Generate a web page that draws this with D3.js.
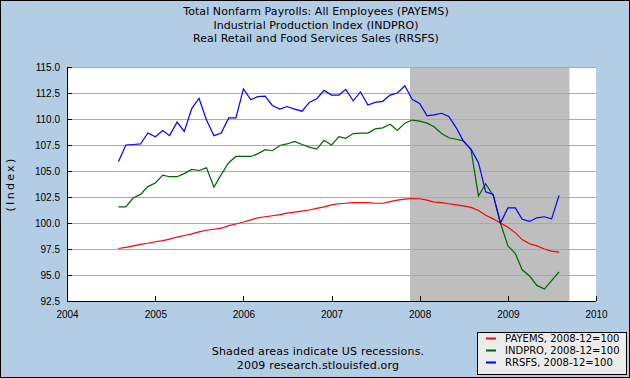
<!DOCTYPE html>
<html>
<head>
<meta charset="utf-8">
<script src="https://cdn.jsdelivr.net/npm/d3@7"></script>
<style>
	body { margin: 0; }
	svg { display: block; font-family: 'DejaVu Sans', sans-serif; }
	.axis path, .axis line { stroke: #000; shape-rendering: crispEdges; }
	.axis text { fill: #000; font-size: 10px; }
	.grid line { stroke: #aaa; shape-rendering: crispEdges; }
	.grid path { display: none; }
</style>
</head>
<body>
<svg></svg>
<script>
const $svg = d3.select('svg');

const titleLines = [
	'Total Nonfarm Payrolls: All Employees (PAYEMS)',
	'Industrial Production Index (INDPRO)',
	'Real Retail and Food Services Sales (RRSFS)'
];
const footLines = ['Shaded areas indicate US recessions.', '2009 research.stlouisfed.org'];
const seriesNames = ['PAYEMS, 2008-12=100', 'INDPRO, 2008-12=100', 'RRSFS, 2008-12=100'];
const seriesColors = ['#ff0000', '#006400', '#0000ff'];

// monthly, Aug 2004 - Aug 2009
const months = d3.timeMonth.range(new Date(2004, 7, 1), new Date(2009, 8, 1));

const payems = [97.55, 97.65, 97.8, 97.95, 98.05,
	98.2, 98.3, 98.45, 98.65, 98.8, 98.95, 99.15, 99.3, 99.4, 99.5, 99.75, 99.9,
	100.1, 100.3, 100.5, 100.6, 100.7, 100.8, 100.95, 101.05, 101.15, 101.25, 101.4, 101.55,
	101.75, 101.85, 101.9, 101.95, 101.95, 101.95, 101.9, 101.9, 102.05, 102.2, 102.3, 102.35,
	102.33, 102.2, 102.0, 101.95, 101.85, 101.75, 101.65, 101.5, 101.2, 100.75, 100.4, 100.0,
	99.6, 99.05, 98.4, 98.0, 97.8, 97.5, 97.3, 97.2];

const indpro = [101.55, 101.55, 102.4, 102.75, 103.5,
	103.85, 104.6, 104.45, 104.45, 104.75, 105.15, 105.05, 105.3, 103.45, 104.65, 105.8, 106.4,
	106.4, 106.4, 106.65, 107.05, 106.95, 107.45, 107.6, 107.85, 107.55, 107.3, 107.1, 107.95,
	107.5, 108.3, 108.15, 108.6, 108.65, 108.65, 109.05, 109.15, 109.5, 108.9, 109.6, 109.9,
	109.8, 109.6, 109.25, 108.6, 108.2, 108.05, 107.9, 107.05, 102.6, 103.75, 102.65, 100.0,
	97.8, 97.05, 95.5, 94.9, 94.0, 93.65, 94.45, 95.3];

const rrsfs = [105.9, 107.5, 107.55, 107.6, 108.65,
	108.3, 108.9, 108.4, 109.7, 108.8, 111.0, 112.0, 109.9, 108.4, 108.65, 110.1, 110.1,
	112.9, 111.85, 112.15, 112.2, 111.3, 110.95, 111.2, 110.95, 110.75, 111.6, 111.95, 112.75,
	112.3, 112.3, 112.85, 111.75, 112.6, 111.35, 111.6, 111.7, 112.3, 112.5, 113.2, 111.9,
	111.5, 110.3, 110.4, 110.55, 110.25, 109.15, 107.85, 107.1, 105.8, 103.0, 102.75, 100.0,
	101.45, 101.45, 100.35, 100.15, 100.5, 100.6, 100.4, 102.65];

const recession = [new Date(2007, 10, 22), new Date(2009, 8, 13)];
const yTicks = [92.5, 95, 97.5, 100, 102.5, 105, 107.5, 110, 112.5, 115];
const xTicks = [2004, 2005, 2006, 2007, 2008, 2009, 2010].map(function(y) { return new Date(y, 0, 1); });

// dimensions
const margin = {top: 67, bottom: 77, left: 67, right: 34};
const width = 630 - margin.left - margin.right;
const height = 378 - margin.top - margin.bottom;

$svg.attr('width', 630).attr('height', 378);

$svg.append('rect')
	.attr('x', 0.5).attr('y', 0.5)
	.attr('width', 629).attr('height', 377)
	.style('fill', '#b3cde5')
	.style('stroke', '#000');

// scales
const scaleX = d3.scaleTime()
	.domain([new Date(2004, 0, 1), new Date(2010, 0, 1)])
	.range([0, width]);

const scaleY = d3.scaleLinear()
	.domain([92.5, 115])
	.range([height, 0]);

const $vis = $svg.append('g')
	.attr('transform', 'translate(' + margin.left + ',' + margin.top + ')');

$vis.append('rect')
	.attr('width', width)
	.attr('height', height)
	.style('fill', '#fff');

$vis.append('rect')
	.attr('x', scaleX(recession[0]))
	.attr('width', scaleX(recession[1]) - scaleX(recession[0]))
	.attr('height', height)
	.style('fill', '#bebebe');

$vis.append('g')
	.attr('class', 'grid')
	.call(d3.axisLeft(scaleY).tickValues(yTicks).tickSize(-width).tickFormat(''));

const line = d3.line()
	.x(function(d, i) { return scaleX(months[i]); })
	.y(function(d) { return scaleY(d); });

$vis.selectAll('.series')
	.data([payems, indpro, rrsfs])
	.enter()
	.append('path')
	.attr('class', 'series')
	.attr('d', line)
	.style('fill', 'none')
	.style('stroke-width', 1.2)
	.style('stroke', function(d, i) { return seriesColors[i]; });

$vis.append('g')
	.attr('class', 'axis axis--y')
	.call(d3.axisLeft(scaleY).tickValues(yTicks).tickSize(-5).tickPadding(7).tickFormat(d3.format('.1f')));

$vis.append('g')
	.attr('class', 'axis axis--x')
	.attr('transform', 'translate(0,' + height + ')')
	.call(d3.axisBottom(scaleX).tickValues(xTicks).tickSize(-5).tickPadding(10).tickFormat(d3.timeFormat('%Y')));

$vis.selectAll('.axis path').attr('d', function() {
	return d3.select(this.parentNode).classed('axis--x') ? 'M0,0.5H' + width : 'M0.5,0V' + height;
});

$svg.append('text')
	.attr('transform', 'translate(14,' + (margin.top + height / 2) + ') rotate(-90)')
	.attr('text-anchor', 'middle')
	.style('font-size', '11px')
	.style('letter-spacing', '2.3px')
	.text('(Index)');

$svg.selectAll('.title')
	.data(titleLines)
	.enter()
	.append('text')
	.attr('class', 'title')
	.attr('x', 316)
	.attr('y', function(d, i) { return 15 + i * 13.6; })
	.attr('text-anchor', 'middle')
	.style('font-size', '11px')
	.style('letter-spacing', '0.08px')
	.text(function(d) { return d; });

$svg.selectAll('.foot')
	.data(footLines)
	.enter()
	.append('text')
	.attr('class', 'foot')
	.attr('x', 318)
	.attr('y', function(d, i) { return 355 + i * 13.5; })
	.attr('text-anchor', 'middle')
	.style('font-size', '11px')
	.style('letter-spacing', '0.18px')
	.text(function(d) { return d; });

// legend
const $legend = $svg.append('g').attr('transform', 'translate(477.5,332.5)');

$legend.append('rect')
	.attr('width', 149)
	.attr('height', 42)
	.style('fill', '#ececec')
	.style('stroke', '#000');

const $items = $legend.selectAll('.item')
	.data(seriesNames)
	.enter()
	.append('g')
	.attr('class', 'item')
	.attr('transform', function(d, i) { return 'translate(0,' + (6 + i * 12) + ')'; });

$items.append('line')
	.attr('x1', 8.5).attr('x2', 18.5)
	.style('stroke-width', 2)
	.style('stroke', function(d, i) { return seriesColors[i]; });

$items.append('text')
	.attr('x', 27.5)
	.attr('y', 3.5)
	.style('font-size', '10px')
	.text(function(d) { return d; });
</script>
</body>
</html>
